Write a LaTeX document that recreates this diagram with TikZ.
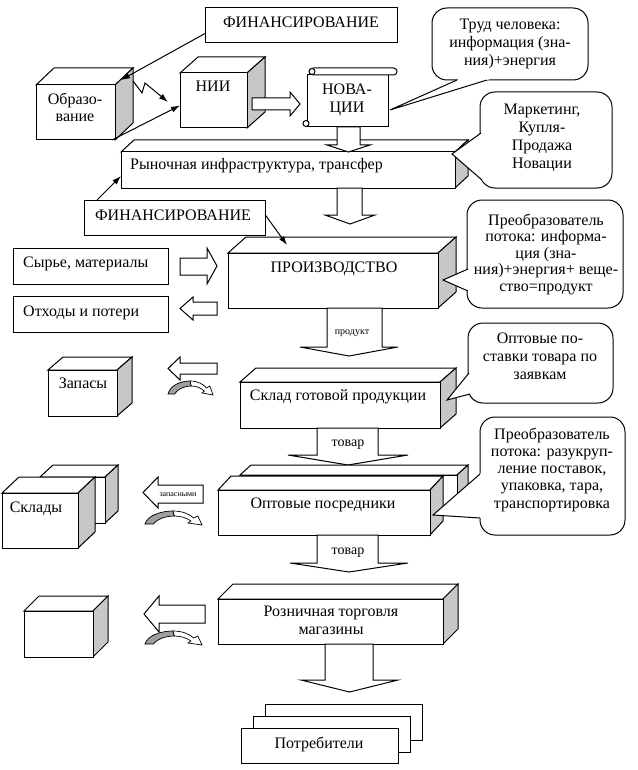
\documentclass[tikz,border=0pt]{standalone}
\usepackage{fontspec}
\setmainfont{Liberation Serif}
\usetikzlibrary{arrows.meta,calc}
\definecolor{sidegray}{gray}{0.78}
\definecolor{bendgray}{gray}{0.62}
\tikzset{
  face/.style={draw=black,line width=1pt,fill=white},
  side/.style={draw=black,line width=1pt,fill=sidegray},
  boxnode/.style={face,inner sep=0pt,outer sep=0pt,anchor=north west},
  callbox/.style={face,rounded corners=15pt,inner sep=0pt,outer sep=0pt,anchor=north west},
  txt/.style={inner sep=0pt,font=\fontsize{16}{18}\selectfont},
  smalltxt/.style={inner sep=0pt,font=\fontsize{14}{16}\selectfont},
  tinytxt/.style={inner sep=0pt,font=\fontsize{10}{12}\selectfont},
  microtxt/.style={inner sep=0pt,font=\fontsize{8}{10}\selectfont},
  conn/.style={line width=1pt,-{Latex[length=9pt,width=6pt]}},
}
\newcommand\ctext[1]{\begin{tabular}[t]{@{}c@{}}#1\end{tabular}}
% name, x1, y1, x2, y2, dx, dy(up)
\newcommand\prism[7]{%
  \draw[face] (#2,#3) -- ++(#6,-#7) -- ++({#4-#2},0) -- (#4,#3) -- cycle;
  \draw[side] (#4,#3) -- ++(#6,-#7) -- ++(0,{#5-#3}) -- (#4,#5) -- cycle;
  \node[boxnode,minimum width={#4-#2},minimum height={#5-#3}] (#1) at (#2,#3) {};
}
\newcommand\flatbox[5]{%
  \node[boxnode,minimum width={#4-#2},minimum height={#5-#3}] (#1) at (#2,#3) {};
}
% xl, xr, ytop, ybase, hxl, hxr, ytip
\newcommand\bdown[7]{%
  \draw[face] (#1,#3) -- (#1,#4) -- (#5,#4) -- ({(#5+#6)/2},#7) -- (#6,#4) -- (#2,#4) -- (#2,#3) -- cycle;
}
% xl, xh, ytop, ybot, hytop, hybot, xtip
\newcommand\bright[7]{%
  \draw[face] (#1,#3) -- (#2,#3) -- (#2,#5) -- (#7,{(#5+#6)/2}) -- (#2,#6) -- (#2,#4) -- (#1,#4) -- cycle;
}
% xtip, xh, xr, ytop, ybot, hytop, hybot
\newcommand\bleft[7]{%
  \draw[face] (#3,#4) -- (#2,#4) -- (#2,#6) -- (#1,{(#6+#7)/2}) -- (#2,#7) -- (#2,#5) -- (#3,#5) -- cycle;
}
% x, y, xscale
\newcommand\bendarrow[3]{%
  \begin{scope}[shift={(#1,#2)},xscale=#3]
    \draw[face,line width=0.7pt] (20,-13) .. controls (27,-13) and (32,-10) .. (35,-6) -- (38,-8) -- (41,1) -- (31,-1) -- (33,-3) .. controls (30,-6) and (26,-8) .. (21,-8) -- cycle;
    \draw[draw=black,line width=0.7pt,fill=bendgray] (0,0) .. controls (2,-9) and (12,-13) .. (20,-13) -- (21,-8) .. controls (14,-8) and (8,-4) .. (6,0) -- cycle;
  \end{scope}%
}
% B1, tip, B2 (coordinates with parentheses)
\newcommand\pointer[3]{%
  \fill[white] ($#2!1.1!#1$) -- #2 -- ($#2!1.1!#3$) -- cycle;
  \draw[line width=1pt] #1 -- #2 -- #3;
}
\begin{document}
\begin{tikzpicture}[x=1pt,y=-1pt]
\useasboundingbox (0,0) rectangle (637,770);
\fill[white] (0,0) rectangle (637,770);

% ---------- top part ----------
\flatbox{fin1}{205}{8}{397}{43}
\node[txt,anchor=base] (t-fin1) at (301,28) {ФИНАНСИРОВАНИЕ};

\prism{obr}{36}{85}{115}{140}{18}{17}
\node[txt,anchor=base,font=\fontsize{16}{17}\selectfont] (t-obr) at (75,105) {\ctext{Образо-\\вание}};

\prism{nii}{180}{73}{247}{128}{18}{16}
\node[txt,anchor=base] (t-nii) at (213,92) {НИИ};

% scroll
\node[boxnode,minimum width=81,minimum height=52] (nov) at (307,75) {};
\draw[face,rounded corners=3.5pt] (310,68) rectangle (397,75);
\draw[face] (312,71.5) circle[radius=3pt];
\draw[face] (306,123.5) circle[radius=3pt];
\node[txt,anchor=base] (t-nov) at (347,95) {\ctext{НОВА-\\ЦИИ}};

\bright{252}{290}{98}{110}{92}{116}{300}

% callout Trud
\node[callbox,minimum width=156,minimum height=72] (c-trud) at (432,8) {};
\coordinate (c-trud-tip) at ($(nov.east)+(2,9)$);
\pointer{(457,80)}{(c-trud-tip)}{(487,80)}
\node[txt,anchor=base] (t-trud) at (510,30) {\ctext{Труд человека:\\информация (зна-\\ния)+энергия}};

% market infrastructure
\prism{ryn}{121}{152}{455}{188}{13}{12}
\node[txt,anchor=base west] (t-ryn) at (130,169) {Рыночная инфраструктура, трансфер};
\bdown{337}{360}{127}{145}{327}{370}{152}

% callout Marketing
\node[callbox,minimum width=132,minimum height=96] (c-mark) at (480,92) {};
\coordinate (c-mark-tip) at ($(ryn.north east)+(-3,2)$);
\pointer{(481,133)}{(c-mark-tip)}{(482,180)}
\node[txt,anchor=base] (t-mark) at (542,115) {\ctext{Маркетинг,\\Купля-\\Продажа\\Новации}};

% financing 2
\flatbox{fin2}{84}{200}{265}{235}
\node[txt,anchor=base] (t-fin2) at (173,220) {ФИНАНСИРОВАНИЕ};

% production
\bdown{337}{362}{188}{215}{325}{375}{224}
\prism{prod}{228}{253}{438}{308}{18}{16}
\node[txt,anchor=base] (t-prod) at (334,272) {ПРОИЗВОДСТВО};

\flatbox{raw}{13}{248}{168}{284}
\node[txt,anchor=base west] (t-raw) at (23,267) {Сырье, материалы};
\flatbox{waste}{13}{296}{168}{332}
\node[txt,anchor=base west] (t-waste) at (23,316) {Отходы и потери};
\bright{180}{207}{258}{275}{248}{284}{217}
\bleft{180}{193}{217}{302}{315}{297}{320}

% callout converter 1
\node[callbox,minimum width=156,minimum height=108] (c-conv1) at (467,200) {};
\coordinate (c-conv1-tip) at ($(prod.east)+(5,-0.5)$);
\pointer{(468,269)}{(c-conv1-tip)}{(468,291)}
\node[txt,anchor=base,font=\fontsize{16}{16.6}\selectfont] (t-conv1) at (546,225) {\ctext{Преобразователь\\потока: информа-\\ция (зна-\\ния)+энергия+ веще-\\ство=продукт}};

% product arrow
\bdown{327}{382}{308}{347}{300}{398}{356}
\node[tinytxt,anchor=base] (t-produkt) at (352,334) {продукт};

% warehouse of finished products
\prism{sklad}{240}{382}{440}{428}{16}{14}
\node[txt,anchor=base] (t-sklad) at (338,400) {Склад готовой продукции};

\prism{zap}{48}{370}{117}{416}{15}{13}
\node[txt,anchor=base] (t-zap) at (83,388) {Запасы};
\bleft{168}{180}{217}{363}{374}{357}{380}
\bendarrow{168}{394}{1.1}

% callout wholesale
\node[callbox,minimum width=145,minimum height=80] (c-opt) at (468,323) {};
\coordinate (c-opt-tip) at ($(sklad.south east)+(7,-28)$);
\pointer{(469,373)}{(c-opt-tip)}{(470,394)}
\node[txt,anchor=base] (t-opt) at (540,343) {\ctext{Оптовые по-\\ставки товара по\\заявкам}};

% tovar 1
\bdown{317}{378}{428}{455}{288}{408}{465}
\node[smalltxt,anchor=base] (t-tovar1) at (348,446) {товар};

% wholesale intermediaries
\prism{opt2}{240}{475}{457}{508}{11}{10}
\prism{opt}{218}{490}{430}{535}{13}{14}
\node[txt,anchor=base] (t-optp) at (323,508) {Оптовые посредники};

% warehouses
\prism{skl2}{40}{477}{105}{523}{13}{12}
\prism{skl}{2}{493}{78}{548}{17}{16}
\node[txt,anchor=base] (t-skl) at (36,512) {Склады};
\bleft{143}{158}{203}{485}{503}{477}{508}
\node[microtxt,anchor=base] (t-zapasn) at (178,496) {запасными};
\bendarrow{145}{524}{1.39}

% callout converter 2
\node[callbox,minimum width=145,minimum height=118] (c-conv2) at (480,417) {};
\coordinate (c-conv2-tip) at ($(opt.east)+(3,2.5)$);
\pointer{(480,474)}{(c-conv2-tip)}{(480,518)}
\node[txt,anchor=base,font=\fontsize{16}{17.3}\selectfont] (t-conv2) at (552,439) {\ctext{Преобразователь\\потока: разукруп-\\ление поставок,\\упаковка, тара,\\транспортировка}};

% tovar 2
\bdown{317}{378}{535}{563}{290}{408}{572}
\node[smalltxt,anchor=base] (t-tovar2) at (348,554) {товар};

% retail
\prism{rozn}{218}{599}{443}{644}{15}{15}
\node[txt,anchor=base] (t-rozn) at (331,616) {\ctext{Розничная торговля\\магазины}};

\prism{empty}{24}{611}{93}{657}{15}{15}
\bleft{144}{159}{205}{605}{623}{596}{632}
\bendarrow{145}{644}{1.39}

\bdown{325}{373}{644}{680}{301}{398}{692}

% consumers
\flatbox{potr3}{265}{704}{422}{740}
\flatbox{potr2}{253}{716}{410}{752}
\flatbox{potr}{241}{728}{398}{763}
\node[txt,anchor=base] (t-potr) at (319,748) {Потребители};

% ---------- thin connectors ----------
\draw[conn] ([yshift=-8pt]fin1.west) -- ($(obr.north east)+(6,-5)$);
\coordinate (obr-z) at ($(obr.north east)+(18,-4)$);
\draw[conn] (obr-z) -- ++(9,12) -- ++(3,-10) -- ($(nii.west)+(-12,1.5)$);
\draw[conn] ($(obr.south east)+(-3,0)$) -- ($(nii.west)+(0,5)$);
\draw[conn] ([xshift=13pt]fin2.north west) -- ($(ryn.west)+(0,6)$);
\draw[conn] ([yshift=3pt]fin2.east) -- ($(prod.north west)+(59,-8)$);
\end{tikzpicture}
\end{document}
